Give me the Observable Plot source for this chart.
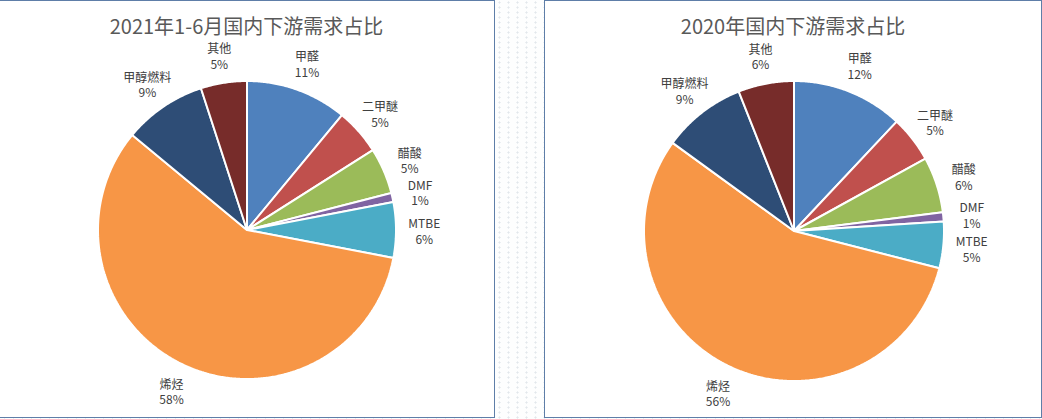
<!DOCTYPE html>
<html>
<head>
<meta charset="utf-8">
<script src="https://cdn.jsdelivr.net/npm/d3@7"></script>
<script src="https://cdn.jsdelivr.net/npm/@observablehq/plot@0.6"></script>
<style>
  html, body { margin: 0; padding: 0; }
  body {
    width: 1042px; height: 419px; position: relative; overflow: hidden;
    background-color: #fdfefe;
    background-image: radial-gradient(circle, #e2e7eb 0.9px, transparent 1.2px);
    background-size: 9px 5px;
  }
  .box {
    position: absolute; top: 0; height: 418px; box-sizing: border-box;
    background: #ffffff; border: 1.5px solid #5e7ea8;
  }
  .title {
    position: absolute; left: 0; right: 0; top: 15px; text-align: center;
    font-family: "Noto Sans CJK SC", "Noto Sans", sans-serif; font-size: 20px;
    line-height: 20px; color: #595959; white-space: nowrap;
  }
  .box svg { position: absolute; left: 0; top: 0; }
</style>
</head>
<body>
<div id="box1" class="box" style="left:-2px; width:497px;"></div>
<div id="box2" class="box" style="left:544px; width:498px;"></div>
<script>
// ---- data ----
const categories = ["甲醛", "二甲醚", "醋酸", "DMF", "MTBE", "烯烃", "甲醇燃料", "其他"];
const values2021H1 = [11, 5, 5, 1, 6, 58, 9, 5];
const values2020 = [12, 5, 6, 1, 5, 56, 9, 6];
const titles = ["2021年1-6月国内下游需求占比", "2020年国内下游需求占比"];
const palette = ["#4f81bd", "#c0504d", "#9bbb59", "#8064a2", "#4bacc6", "#f79646", "#2e4d76", "#772c2a"];

function drawPie(boxId, title, values, layout) {
  const box = document.getElementById(boxId);
  const {W, H, cx, cy, r} = layout;
  const total = d3.sum(values);
  const slices = d3.pie().sort(null).value(d => d.value)(
    categories.map((name, i) => ({name, value: values[i]}))
  );
  const pts = [];
  const labels = [];
  slices.forEach(s => {
    const name = s.data.name;
    pts.push({name, x: 0, y: 0});
    const n = Math.max(2, Math.ceil((s.endAngle - s.startAngle) / (Math.PI / 360)));
    for (let k = 0; k <= n; k++) {
      const a = s.startAngle + (s.endAngle - s.startAngle) * k / n;
      pts.push({name, x: Math.sin(a), y: Math.cos(a)});
    }
    const m = (s.startAngle + s.endAngle) / 2;
    labels.push({
      name, x: 1.19 * Math.sin(m), y: 1.19 * Math.cos(m),
      text: name + "\n" + Math.round(100 * s.data.value / total) + "%"
    });
  });

  const svg = Plot.plot({
    width: W, height: H, margin: 0,
    style: {background: "transparent", fontFamily: "'Noto Sans CJK SC', 'Noto Sans', sans-serif"},
    x: {domain: [-cx / r, (W - cx) / r], range: [0, W], axis: null},
    y: {domain: [(cy - H) / r, cy / r], range: [H, 0], axis: null},
    color: {domain: categories, range: palette},
    marks: [
      Plot.line(pts, {
        x: "x", y: "y", z: "name", fill: "name", stroke: "#ffffff",
        strokeWidth: 2, strokeLinejoin: "miter", curve: "linear-closed"
      }),
      Plot.text(labels, {
        x: "x", y: "y", text: "text", fill: "#404040", fontSize: 12,
        lineHeight: 1.3, textAnchor: "middle", dy: 1
      })
    ]
  });
  box.appendChild(svg);
  const t = document.createElement("div");
  t.className = "title";
  t.textContent = title;
  box.appendChild(t);
}

drawPie("box1", titles[0], values2021H1, {W: 494, H: 415, cx: 247.5, cy: 228.5, r: 149});
drawPie("box2", titles[1], values2020, {W: 495, H: 415, cx: 248.5, cy: 229.5, r: 150});
</script>
</body>
</html>
